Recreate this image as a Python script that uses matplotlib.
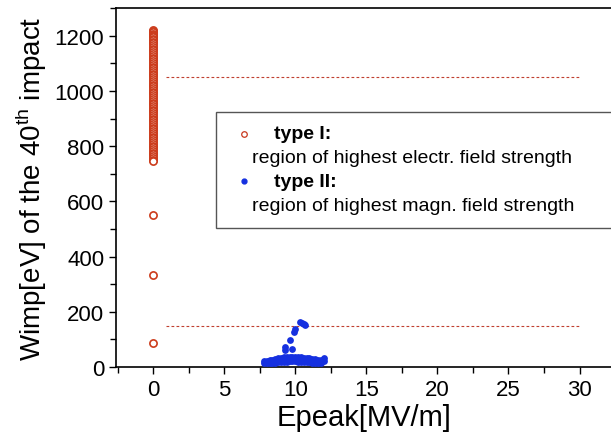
import numpy as np
import matplotlib
matplotlib.use("Agg")
import matplotlib.pyplot as plt
from matplotlib.patches import Rectangle
from matplotlib.ticker import MultipleLocator

plt.rcParams['font.family'] = ['Liberation Sans', 'DejaVu Sans']
plt.rcParams['mathtext.fontset'] = 'custom'
plt.rcParams['mathtext.rm'] = 'Liberation Sans'

# type I: all at Epeak = 0
red_e = [0.0] * 80
red_w = [1222, 1218, 1213, 1208, 1204, 1199, 1195, 1190, 1184, 1179, 1172, 1166,
         1160, 1153, 1147, 1140, 1134, 1127, 1121, 1114, 1108, 1101, 1095, 1088,
         1082, 1075, 1069, 1062, 1056, 1049, 1043, 1036, 1030, 1023, 1017, 1010,
         1004, 997, 991, 984, 978, 971, 965, 958, 952, 945, 939, 932, 926, 919,
         913, 906, 900, 893, 887, 880, 874, 867, 861, 854, 848, 841, 835, 828,
         822, 815, 809, 802, 796, 789, 783, 776, 770, 763, 757, 750, 745,
         550, 335, 88]

# type II: cluster around 8..12 MV/m
blue_e = [7.8, 8.0, 8.2, 8.4, 8.6, 8.8, 9.0, 9.2, 9.4, 9.6, 9.8, 10.0, 10.2, 10.4,
          10.6, 10.8, 11.0, 11.2, 11.4, 11.6, 11.8, 12.0,
          7.8, 8.0, 8.2, 8.4, 8.6, 8.8, 9.0, 9.2, 9.4, 9.6, 9.8, 10.0, 10.2, 10.4,
          10.6, 10.8, 11.0, 11.2, 11.4, 11.6, 11.8, 12.0,
          7.9, 8.1, 8.3, 8.5, 8.7, 8.9, 9.1, 9.3, 9.5, 9.7, 9.9, 10.1, 10.3, 10.5,
          10.7, 10.9, 11.1, 11.3, 11.5, 11.7, 11.9,
          9.3, 9.25, 9.8, 9.6, 9.95, 10.0, 10.35, 10.45, 10.7, 10.65]
blue_w = [20, 23, 25, 27, 29, 31, 33, 35, 37, 38, 38, 37, 36, 35,
          33, 32, 31, 30, 29, 27, 26, 31,
          13, 14, 15, 15, 16, 17, 18, 18, 19, 20, 20, 20, 19, 19,
          18, 17, 17, 16, 15, 15, 14, 20,
          17, 19, 20, 22, 23, 24, 26, 27, 28, 29, 29, 28, 27, 26,
          25, 24, 23, 22, 21, 20, 22,
          72, 60, 65, 98, 127, 138, 164, 160, 152, 155]

limit_levels = [1050, 150]

fig = plt.figure(figsize=(6.11, 4.35), dpi=100)
ax = fig.add_axes([0.19, 0.154, 0.812, 0.825])

ax.scatter(red_e, red_w, s=27, facecolors='white', edgecolors='#cc3c1c',
           linewidths=1.2, zorder=3)
ax.scatter(blue_e, blue_w, s=24, color='#1530e0', linewidths=0, zorder=3)

for lvl in limit_levels:
    ax.plot([0.9, 30], [lvl, lvl], color='#c04030', lw=0.8,
            linestyle=(0, (2.5, 2)), zorder=2)

ax.set_xlim(-2.6, 32.3)
ax.set_ylim(0, 1300)
ax.xaxis.set_major_locator(MultipleLocator(5))
ax.xaxis.set_minor_locator(MultipleLocator(2.5))
ax.yaxis.set_major_locator(MultipleLocator(200))
ax.yaxis.set_minor_locator(MultipleLocator(100))
ax.tick_params(which='both', direction='out', width=1.0, labelsize=16)
ax.tick_params(which='major', length=5)
ax.tick_params(which='minor', length=4)
ax.spines['right'].set_visible(False)
for s in ['left', 'bottom', 'top']:
    ax.spines[s].set_linewidth(1.2)

ax.set_xlabel('Epeak[MV/m]', fontsize=21, labelpad=2)
ax.set_ylabel('Wimp[eV] of the 40$^{\\mathrm{th}}$ impact', fontsize=20, labelpad=4)

# legend box drawn by hand
ax.add_patch(Rectangle((0.202, 0.388), 0.85, 0.323, transform=ax.transAxes,
                       facecolor='white', edgecolor='#555555', lw=1.0,
                       clip_on=False, zorder=4))
ax.plot([0.258], [0.650], 'o', ms=4, mfc='white', mec='#c8381e', mew=0.9,
        transform=ax.transAxes, zorder=5)
ax.plot([0.258], [0.517], 'o', ms=3.5, color='#1530e0',
        transform=ax.transAxes, zorder=5)
ax.text(0.319, 0.650, 'type I:', transform=ax.transAxes, fontsize=14,
        fontweight='bold', va='center', zorder=5)
ax.text(0.273, 0.583, 'region of highest electr. field strength',
        transform=ax.transAxes, fontsize=14, va='center', zorder=5)
ax.text(0.319, 0.517, 'type II:', transform=ax.transAxes, fontsize=14,
        fontweight='bold', va='center', zorder=5)
ax.text(0.273, 0.449, 'region of highest magn. field strength',
        transform=ax.transAxes, fontsize=14, va='center', zorder=5)

fig.savefig('out.png', dpi=100)
